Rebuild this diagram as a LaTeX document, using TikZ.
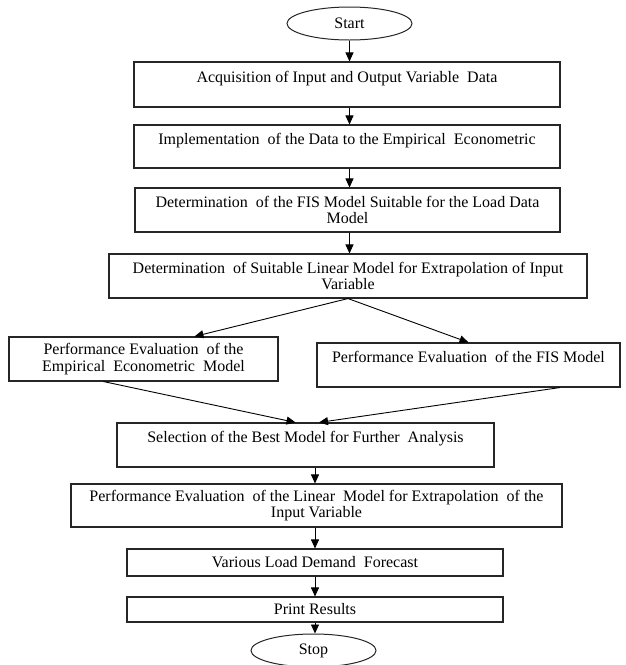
\documentclass[tikz,border=0pt]{standalone}
\usepackage{fontspec}
\setmainfont{Liberation Serif}
\usetikzlibrary{arrows.meta,calc,positioning,shapes.geometric}

\begin{document}
\begin{tikzpicture}[
    x=1pt, y=-1pt,
    font=\fontsize{16}{16.5}\selectfont,
    stage/.style={draw=black!85, line width=1.1pt, align=center, inner sep=1pt},
    roomy/.style={text depth=16pt},
    term/.style={draw=black!85, line width=1pt, ellipse, inner sep=0pt,
        minimum width=125pt, minimum height=33pt},
    flow/.style={-{Triangle[length=9pt, width=8pt]}, line width=0.9pt}
]
\fill[white] (0,0) rectangle (625,665);
\useasboundingbox (0,0) rectangle (625,665);
% main column
\node[term] (start) at (349.5,23.5) {Start};
\node[stage, roomy, minimum width=426pt, minimum height=45pt] (acq) at (347,84.5)
    {Acquisition of Input and Output Variable\ \ Data};
\node[stage, roomy, minimum width=426pt, minimum height=43pt] (impl) at (347,146.5)
    {Implementation\ \ of the Data to the Empirical\ \ Econometric};
\node[stage, minimum width=425pt, minimum height=44pt] (fis) at (347.5,210)
    {Determination\ \ of the FIS Model Suitable for the Load Data\\Model};
\node[stage, minimum width=478pt, minimum height=44pt] (lin) at (348,276)
    {Determination\ \ of Suitable Linear Model for Extrapolation of Input\\Variable};
% two branches
\node[stage, minimum width=269pt, minimum height=44pt] (eco) at (143.5,359)
    {Performance Evaluation\ \ of the\\Empirical\ \ Econometric\ \ Model};
\node[stage, roomy, minimum width=303pt, minimum height=44pt] (fisev) at (468.5,365)
    {Performance Evaluation\ \ of the FIS Model};
% lower column
\node[stage, roomy, minimum width=377pt, minimum height=44pt] (best) at (305.5,445)
    {Selection of the Best Model for Further\ \ Analysis};
\node[stage, minimum width=491pt, minimum height=43pt] (linev) at (316.5,505.5)
    {Performance Evaluation\ \ of the Linear\ \ Model for Extrapolation\ \ of the\\Input Variable};
\node[stage, minimum width=376pt, minimum height=27pt] (fore) at (315,562.5)
    {Various Load Demand\ \ Forecast};
\node[stage, minimum width=376pt, minimum height=25pt] (print) at (315,609.5)
    {Print Results};
\node[term] (stop) at (313.5,650.5) {Stop};

\draw[flow] (start) -- (start |- acq.north);
\draw[flow] (acq.south -| start) -- (impl.north -| start);
\draw[flow] (impl.south -| start) -- (fis.north -| start);
\draw[flow] (fis.south -| start) -- (lin.north -| start);
\draw[flow] (lin.south) -- ($(eco.north)+(51,0)$);
\draw[flow] (lin.south) -- (fisev.north);
\draw[flow] ($(eco.south)+(-40,0)$) -- ($(best.north)+(-10,0)$);
\draw[flow] ($(fisev.south)+(91.5,0)$) -- ($(best.north)+(13.5,0)$);
\draw[flow] (best.south -| fore) -- (linev.north -| fore);
\draw[flow] (linev.south -| fore) -- (fore.north);
\draw[flow] (fore) -- (print);
\draw[flow] (print.south) -- (print.south |- stop.north);
\end{tikzpicture}
\end{document}
